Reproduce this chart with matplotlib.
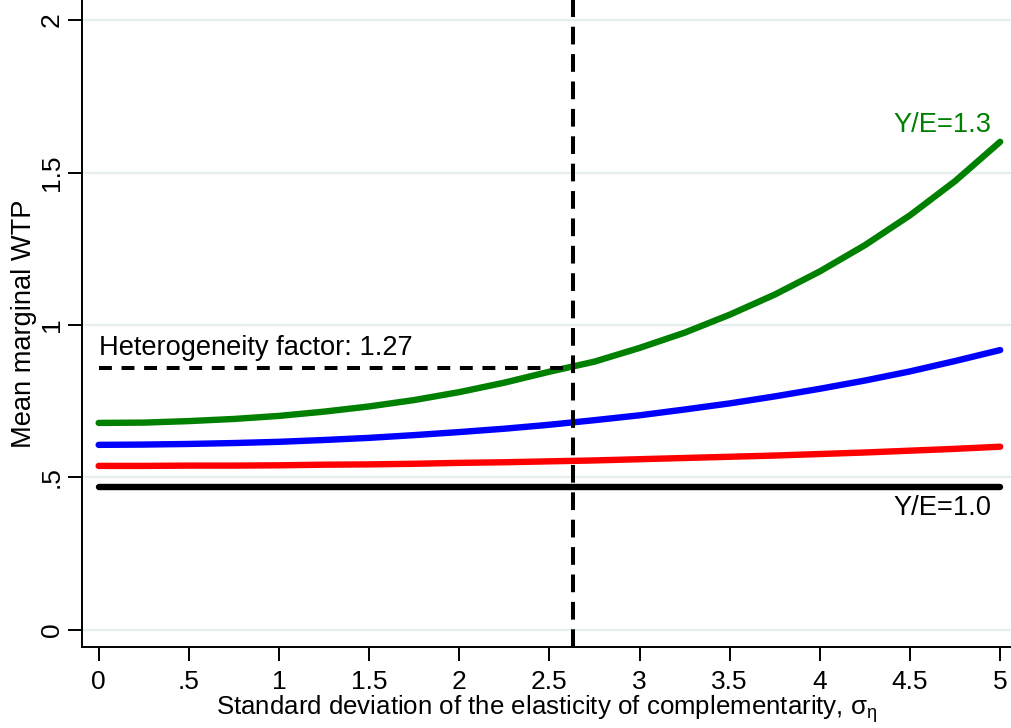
import matplotlib
matplotlib.use("Agg")
import matplotlib.pyplot as plt

plt.rcParams["font.family"] = ["Liberation Sans", "DejaVu Sans"]
plt.rcParams["mathtext.fontset"] = "custom"
plt.rcParams["mathtext.rm"] = "Liberation Sans"

# standard deviation of the elasticity of complementarity
sigma = [0, 0.25, 0.5, 0.75, 1, 1.25, 1.5, 1.75, 2, 2.25, 2.5,
         2.75, 3, 3.25, 3.5, 3.75, 4, 4.25, 4.5, 4.75, 5]

# mean marginal WTP
wtp_13 = [0.679, 0.680, 0.685, 0.692, 0.702, 0.716, 0.733, 0.754, 0.780, 0.811, 0.847,
          0.880, 0.925, 0.975, 1.034, 1.100, 1.176, 1.262, 1.360, 1.472, 1.601]
wtp_blue = [0.607, 0.608, 0.610, 0.613, 0.617, 0.623, 0.630, 0.639, 0.649, 0.660, 0.673,
            0.688, 0.704, 0.723, 0.743, 0.766, 0.791, 0.818, 0.848, 0.882, 0.918]
wtp_red = [0.538, 0.538, 0.539, 0.539, 0.540, 0.542, 0.543, 0.545, 0.548, 0.550, 0.553,
           0.556, 0.560, 0.564, 0.568, 0.572, 0.577, 0.582, 0.588, 0.594, 0.601]
wtp_10 = [0.470] * len(sigma)

sigma_ref = 2.63
wtp_ref = 0.86
het_factor = 1.27

xticks = [0, 0.5, 1, 1.5, 2, 2.5, 3, 3.5, 4, 4.5, 5]
xlabels = ["0", ".5", "1", "1.5", "2", "2.5", "3", "3.5", "4", "4.5", "5"]
yticks = [0, 0.5, 1, 1.5, 2]
ylabels = ["0", ".5", "1", "1.5", "2"]

fig = plt.figure(figsize=(10.11, 7.28), dpi=100)
ax = fig.add_axes([0.0808, 0.1108, 0.9192, 0.8892])

lw = 4.6
ax.plot(sigma, wtp_10, color="black", lw=lw, solid_capstyle="round", zorder=3)
ax.plot(sigma, wtp_red, color="#ff0000", lw=lw, solid_capstyle="round", zorder=3)
ax.plot(sigma, wtp_blue, color="#0000ff", lw=lw, solid_capstyle="round", zorder=3)
ax.plot(sigma, wtp_13, color="#008000", lw=lw, solid_capstyle="round", zorder=3)

ax.axvline(sigma_ref, color="black", lw=2.9, dashes=(4.4, 2.4), zorder=4)
ax.plot([0, sigma_ref], [wtp_ref, wtp_ref], color="black", lw=2.9, dashes=(3.2, 2.4), zorder=4)

ax.text(0, wtp_ref + 0.022, "Heterogeneity factor: %.2f" % het_factor, fontsize=19.6,
        ha="left", va="bottom")
ax.text(4.95, 1.612, "Y/E=1.3", color="#008000", fontsize=19.6, ha="right", va="bottom")
ax.text(4.95, 0.358, "Y/E=1.0", color="black", fontsize=19.6, ha="right", va="bottom")

ax.set_xlim(-0.094, 5.06)
ax.set_ylim(-0.057, 2.066)
ax.set_xticks(xticks)
ax.set_xticklabels(xlabels)
ax.set_yticks(yticks)
ax.set_yticklabels(ylabels, rotation=90, va="center")
ax.tick_params(axis="both", labelsize=19, length=10, width=1.4, pad=6)
ax.tick_params(axis="y", pad=3)
ax.grid(axis="y", color="#e6eef0", lw=1.6, zorder=0)
ax.set_axisbelow(True)

for s in ["top", "right"]:
    ax.spines[s].set_visible(False)
for s in ["left", "bottom"]:
    ax.spines[s].set_linewidth(1.4)

ax.set_xlabel(r"Standard deviation of the elasticity of complementarity, $\mathregular{σ_η}$",
              fontsize=18.6, labelpad=0)
ax.set_ylabel("Mean marginal WTP", fontsize=19.6, labelpad=2)

fig.savefig("out.png", dpi=100)
